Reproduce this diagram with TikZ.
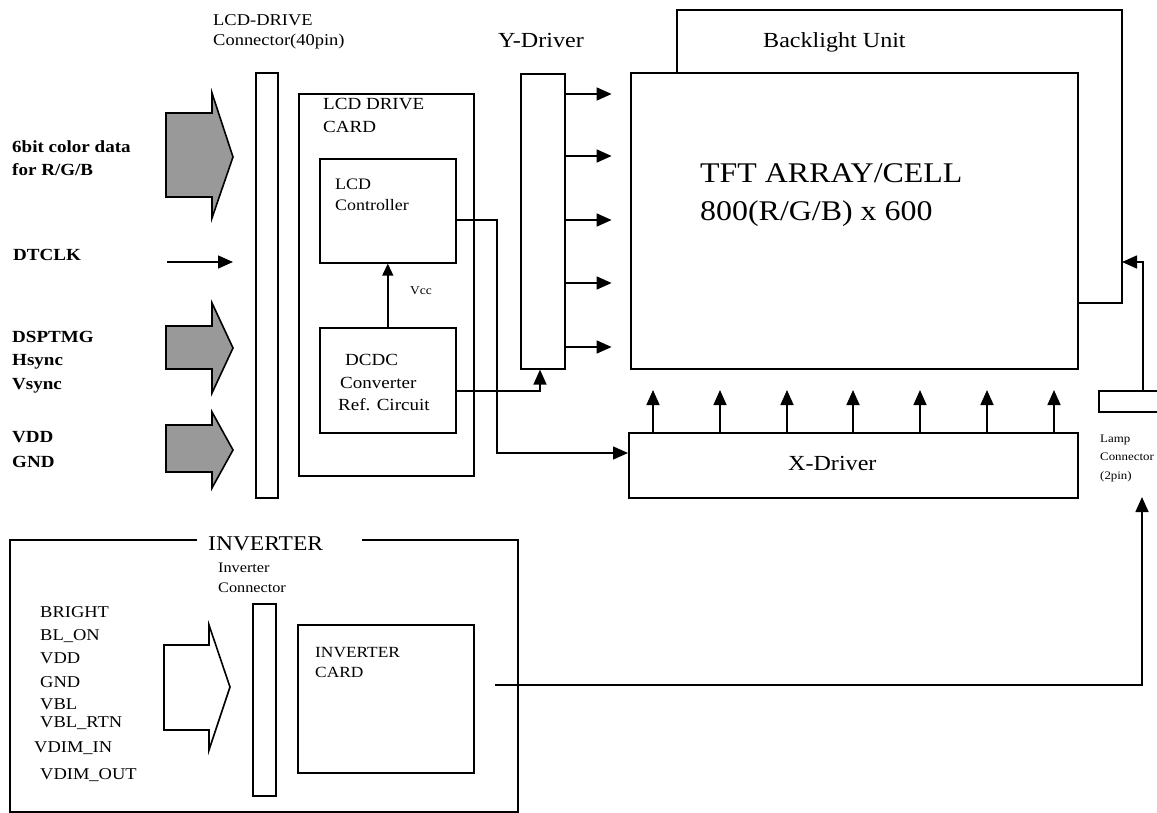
\documentclass[tikz,border=0pt]{standalone}
\usepackage{fontspec}
\setmainfont{Liberation Serif}[FakeStretch=1.12]
\usetikzlibrary{arrows.meta}
\newcommand\myfs[1]{\fontsize{#1}{#1}\selectfont}
\tikzset{
  box/.style={draw, line width=1.6pt, inner sep=0pt, anchor=north west},
  lbl/.style={anchor=west, inner sep=0pt, text height=0.72em, text depth=0.2em},
  wire/.style={line width=1.6pt},
  arr/.style={line width=1.6pt, -{Triangle[length=15pt,width=13pt]}},
  sarr/.style={line width=1.4pt, -{Triangle[length=12pt,width=11pt]}},
  barr/.style={line width=1.6pt, fill=black!40, line join=miter},
  harr/.style={line width=1.6pt, line join=miter},
}
\begin{document}
\begin{tikzpicture}[x=1pt,y=-1pt]
\useasboundingbox (0,0) rectangle (1157,813);

% ---------- LCD-DRIVE connector ----------
\node[lbl,font=\myfs{16.5}] (connt1) at (213,23) {LCD-DRIVE};
\node[lbl,font=\myfs{16.5}] (connt2) at (213,43) {Connector(40pin)};
\node[box,minimum width=22pt,minimum height=425pt] (conn) at (255,72) {};

% ---------- input signals ----------
\draw[barr] (166,113) -- (212,113) -- (212,93) -- (233,157) -- (212,218) -- (212,197) -- (166,197) -- cycle;
\draw[barr] (166,326) -- (212,326) -- (212,303) -- (233,348) -- (212,393) -- (212,369) -- (166,369) -- cycle;
\draw[barr] (166,425) -- (212,425) -- (212,412) -- (233,450) -- (212,488) -- (212,472) -- (166,472) -- cycle;

\node[lbl,font=\myfs{17}\bfseries] (s1a) at (12,150) {6bit color data};
\node[lbl,font=\myfs{17}\bfseries] (s1b) at (12,173) {for R/G/B};
\node[lbl,font=\myfs{17}\bfseries] (s2) at (13,258) {DTCLK};
\node[lbl,font=\myfs{17}\bfseries] (s3a) at (12,340) {DSPTMG};
\node[lbl,font=\myfs{17}\bfseries] (s3b) at (12,363) {Hsync};
\node[lbl,font=\myfs{17}\bfseries] (s3c) at (12,387) {Vsync};
\node[lbl,font=\myfs{17}\bfseries] (s4a) at (12,440) {VDD};
\node[lbl,font=\myfs{17}\bfseries] (s4b) at (12,465) {GND};
\coordinate (dt0) at (167,262);
\coordinate (dt1) at (233,262);
\draw[arr] (dt0) -- (dt1);

% ---------- LCD drive card ----------
\node[box,minimum width=175pt,minimum height=382pt] (card) at (298,93) {};
\node[lbl,font=\myfs{17}] (cardt1) at (323,107) {LCD DRIVE};
\node[lbl,font=\myfs{17}] (cardt2) at (323,130) {CARD};
\node[box,minimum width=136pt,minimum height=104pt] (ctrl) at (319,158) {};
\node[lbl,font=\myfs{16}] (ctrlt1) at (335,187) {LCD};
\node[lbl,font=\myfs{16}] (ctrlt2) at (335,208) {Controller};
\node[box,minimum width=136pt,minimum height=105pt] (dcdc) at (319,327) {};
\node[lbl,font=\myfs{17}] (dct1) at (345,363) {DCDC};
\node[lbl,font=\myfs{17}] (dct2) at (340,386) {Converter};
\node[lbl,font=\myfs{17}] (dct3) at (338,408) {Ref. Circuit};
\draw[sarr] (dcdc.north) -- (ctrl.south);
\node[lbl,font=\myfs{12}] (vcc) at (410,292) {Vcc};

% ---------- Y driver ----------
\node[lbl,font=\myfs{21.5}] (ydt) at (498,45) {Y-Driver};
\node[box,minimum width=44pt,minimum height=295pt] (ydrv) at (520,73) {};

% ---------- TFT + backlight ----------
\node[box,minimum width=447pt,minimum height=296pt] (tft) at (630,72) {};
\node[lbl,font=\myfs{28.5}] (tftt1) at (700,180) {TFT ARRAY/CELL};
\node[lbl,font=\myfs{28.5}] (tftt2) at (700,218) {800(R/G/B) x 600};
\node[lbl,font=\myfs{21.5}] (blt) at (763,45) {Backlight Unit};
\coordinate (bl1) at (677,72);
\coordinate (bl2) at (677,10);
\coordinate (bl3) at (1122,10);
\coordinate (bl4) at (1122,303);
\draw[wire] (tft.north -| bl1) -- (bl2) -- (bl3) -- (bl4) -- (tft.east |- bl4);

\foreach \yy in {94,156,220,283,347} {
  \coordinate (ya) at (564,\yy);
  \draw[arr] (ydrv.east |- ya) -- ++(46,0);
}

% ---------- X driver ----------
\node[box,minimum width=449pt,minimum height=65pt] (xdrv) at (628,432) {};
\node[lbl,font=\myfs{21.5}] (xdt) at (788,468) {X-Driver};
\foreach \xx in {653,720,787,853,920,987,1054} {
  \coordinate (xa) at (\xx,432);
  \draw[arr] (xdrv.north -| xa) -- ++(0,-42);
}

% ---------- card connections ----------
\coordinate (c1) at (497,220);
\coordinate (c2) at (497,453);
\draw[arr] (ctrl.east |- c1) -- (c1) -- (c2) -- (xdrv.west |- c2);
\coordinate (d1) at (540,391);
\draw[arr] (dcdc.east |- d1) -- (d1) -- (ydrv.south -| d1);

% ---------- lamp connector ----------
\node[box,minimum width=64pt,minimum height=21pt] (lamp) at (1098,390) {};
\node[lbl,font=\myfs{11.5}] (lampt1) at (1100,440) {Lamp};
\node[lbl,font=\myfs{11.5}] (lampt2) at (1100,458) {Connector};
\node[lbl,font=\myfs{11.5}] (lampt3) at (1100,477) {(2pin)};
\coordinate (lw1) at (1143,262);
\draw[arr] (lamp.north -| lw1) -- (lw1) -- (bl4 |- lw1);

% ---------- inverter ----------
\draw[wire] (197,540) -- (10,540) -- (10,812) -- (518,812) -- (518,540) -- (362,540);
\node[lbl,font=\myfs{21}] (invt) at (208,548) {INVERTER};
\node[lbl,font=\myfs{14.5}] (icont1) at (218,570) {Inverter};
\node[lbl,font=\myfs{14.5}] (icont2) at (218,590) {Connector};
\node[box,minimum width=23pt,minimum height=192pt] (iconn) at (252,603) {};
\node[box,minimum width=176pt,minimum height=148pt] (icard) at (297,624) {};
\node[lbl,font=\myfs{15.5}] (icardt1) at (315,655) {INVERTER};
\node[lbl,font=\myfs{15.5}] (icardt2) at (315,675) {CARD};
\draw[harr] (164,645) -- (209,645) -- (209,625) -- (230,687) -- (209,750) -- (209,730) -- (164,730) -- cycle;

\node[lbl,font=\myfs{16.5}] (i1) at (40,615) {BRIGHT};
\node[lbl,font=\myfs{16.5}] (i2) at (40,638) {BL\_ON};
\node[lbl,font=\myfs{16.5}] (i3) at (40,661) {VDD};
\node[lbl,font=\myfs{16.5}] (i4) at (40,685) {GND};
\node[lbl,font=\myfs{16.5}] (i5) at (40,707) {VBL};
\node[lbl,font=\myfs{16.5}] (i6) at (40,725) {VBL\_RTN};
\node[lbl,font=\myfs{16.5}] (i7) at (34,750) {VDIM\_IN};
\node[lbl,font=\myfs{16.5}] (i8) at (40,777) {VDIM\_OUT};

\coordinate (iv1) at (495,685);
\coordinate (iv2) at (1142,497);
\draw[arr] (iv1) -| (iv2);
\end{tikzpicture}
\end{document}
